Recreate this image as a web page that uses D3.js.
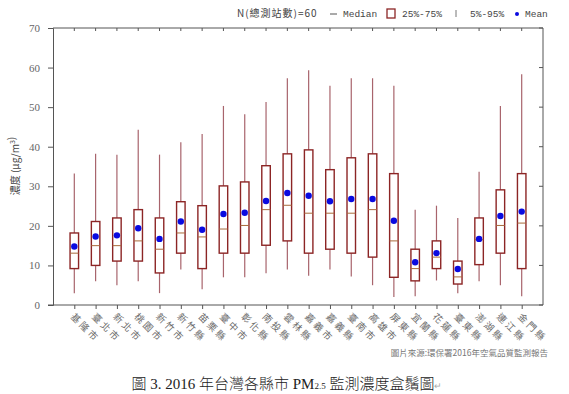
<!DOCTYPE html>
<html>
<head>
<meta charset="utf-8">
<script src="https://cdn.jsdelivr.net/npm/d3@7"></script>
<style>
  body { margin: 0; background: #fff; }
  svg { display: block; }
</style>
</head>
<body>
<svg class="viz" width="569" height="394"></svg>
<script>
// data
var cities = ["基隆市", "臺北市", "新北市", "桃園市", "新竹市", "新竹縣", "苗栗縣", "臺中市", "彰化縣", "南投縣", "雲林縣",
              "嘉義市", "嘉義縣", "臺南市", "高雄市", "屏東縣", "宜蘭縣", "花蓮縣", "臺東縣", "澎湖縣", "連江縣", "金門縣"];
var p5     = [3, 6, 5, 6, 3, 9, 4, 7, 7, 8, 9, 7.4, 9, 7.2, 5, 2, 2.2, 6.2, 3, 6, 5, 2.2];
var p25    = [9.2, 10, 11.1, 11.1, 8.1, 13.1, 9.2, 13.1, 13.1, 15.1, 16.2, 13.1, 14.1, 13.1, 12.1, 7, 6.1, 9.2, 5.3, 10.2, 13.1, 9.2];
var median = [13.1, 15, 15, 16.2, 14.1, 18.2, 17.2, 19.2, 20.1, 24.1, 25.2, 23.2, 23.2, 23.2, 24.1, 16.2, 9.2, 12.1, 7.1, 16.5, 20.1, 20.7];
var p75    = [18.2, 21.1, 22, 24.1, 22, 26.1, 25.1, 30.1, 31.1, 35.2, 38.2, 39.2, 34.2, 37.2, 38.2, 33.2, 14.1, 16.2, 11.1, 22, 29.1, 33.2];
var p95    = [33.2, 38.2, 38, 44.3, 38, 41.1, 43.2, 50.3, 48.2, 51.3, 57.3, 59.3, 55.4, 57.3, 57.3, 55.4, 24.1, 25.1, 22, 33.7, 50.3, 58.3];
var means  = [14.8, 17.3, 17.6, 19.4, 16.7, 21.1, 19, 23, 23.3, 26.3, 28.3, 27.6, 26.2, 26.8, 26.8, 21.3, 10.8, 13.1, 9.1, 16.7, 22.5, 23.6];
var yTicks = [0, 10, 20, 30, 40, 50, 60, 70];

var svg = d3.select(".viz"),
    margin = {top: 28, right: 26, bottom: 89, left: 53},
    width = 569 - margin.left - margin.right,
    height = 394 - margin.top - margin.bottom;

var axisColor = "#555",
    boxColor = "#8c2525",
    whiskerColor = "#a8646c",
    medianColor = "#a86a3c",
    meanColor = "#0a0ae0";

var scaleX = d3.scalePoint()
    .domain(cities)
    .range([0, width])
    .padding(1);

var scaleY = d3.scaleLinear()
    .domain([0, 70])
    .range([height, 0]);

var g = svg.append("g")
    .attr("transform", "translate(" + margin.left + "," + margin.top + ")");

// frame: top and right lines with inward ticks
g.append("line")
    .attr("x1", 0).attr("x2", width).attr("y1", 0).attr("y2", 0)
    .style("stroke", axisColor);
g.append("line")
    .attr("x1", width).attr("x2", width).attr("y1", 0).attr("y2", height)
    .style("stroke", axisColor);

g.selectAll(".topTick")
    .data(cities)
    .enter()
    .append("line")
    .attr("class", "topTick")
    .attr("x1", function (d) { return scaleX(d); })
    .attr("x2", function (d) { return scaleX(d); })
    .attr("y1", 0).attr("y2", 3)
    .style("stroke", axisColor);

g.selectAll(".rightTick")
    .data(yTicks)
    .enter()
    .append("line")
    .attr("class", "rightTick")
    .attr("x1", width - 4).attr("x2", width)
    .attr("y1", function (d) { return scaleY(d); })
    .attr("y2", function (d) { return scaleY(d); })
    .style("stroke", axisColor);

// left axis
var yAxis = d3.axisLeft(scaleY)
    .tickValues(yTicks)
    .tickSize(5)
    .tickPadding(8);

var yG = g.append("g").call(yAxis);
yG.select(".domain").style("stroke", axisColor);
yG.selectAll(".tick line").style("stroke", axisColor);
yG.selectAll("text")
    .style("font-family", "'Liberation Serif', serif")
    .style("font-size", "11px")
    .style("fill", "#666");

// bottom axis
var xAxis = d3.axisBottom(scaleX)
    .tickSize(4)
    .tickFormat("");

var xG = g.append("g")
    .attr("transform", "translate(0," + height + ")")
    .call(xAxis);
xG.select(".domain").attr("d", "M-5,0H" + width).style("stroke", axisColor);
xG.selectAll(".tick line").style("stroke", axisColor);

g.selectAll(".cityLabel")
    .data(cities)
    .enter()
    .append("text")
    .attr("class", "cityLabel")
    .attr("transform", function (d) {
      return "translate(" + (scaleX(d) - 2) + "," + (height + 10) + ") rotate(45)";
    })
    .attr("dy", "0.35em")
    .style("font-family", "'Noto Sans CJK TC', sans-serif")
    .style("font-size", "9.5px")
    .style("letter-spacing", "2.5px")
    .style("fill", "#6a6a6a")
    .text(function (d) { return d; });

// boxes
var boxW = 8.5;
var boxes = g.selectAll(".box")
    .data(cities)
    .enter()
    .append("g")
    .attr("class", "box");

boxes.append("line")
    .attr("x1", function (d) { return scaleX(d); })
    .attr("x2", function (d) { return scaleX(d); })
    .attr("y1", function (d, i) { return scaleY(p5[i]); })
    .attr("y2", function (d, i) { return scaleY(p95[i]); })
    .style("stroke", whiskerColor)
    .style("stroke-width", "1.2px");

boxes.append("rect")
    .attr("x", function (d) { return scaleX(d) - boxW / 2; })
    .attr("y", function (d, i) { return scaleY(p75[i]); })
    .attr("width", boxW)
    .attr("height", function (d, i) { return scaleY(p25[i]) - scaleY(p75[i]); })
    .style("fill", "#fff")
    .style("stroke", boxColor)
    .style("stroke-width", "1.4px");

boxes.append("line")
    .attr("x1", function (d) { return scaleX(d) - boxW / 2; })
    .attr("x2", function (d) { return scaleX(d) + boxW / 2; })
    .attr("y1", function (d, i) { return scaleY(median[i]); })
    .attr("y2", function (d, i) { return scaleY(median[i]); })
    .style("stroke", medianColor)
    .style("stroke-width", "1px");

boxes.append("circle")
    .attr("cx", function (d) { return scaleX(d); })
    .attr("cy", function (d, i) { return scaleY(means[i]); })
    .attr("r", 3.2)
    .style("fill", meanColor);

// y axis title
svg.append("text")
    .attr("transform", "translate(19,166) rotate(-90)")
    .attr("text-anchor", "middle")
    .style("font-family", "'Noto Sans CJK TC', sans-serif")
    .style("font-size", "10px")
    .style("fill", "#444")
    .html("濃度 (μg/m<tspan dy='-4' font-size='7px'>3</tspan>)");

// legend
var legend = svg.append("g")
    .style("font-family", "'Liberation Mono', monospace")
    .style("font-size", "9.5px")
    .style("fill", "#444");

legend.append("text").attr("x", 237).attr("y", 17)
    .style("font-family", "'Noto Sans CJK TC', sans-serif")
    .style("font-size", "10px")
    .style("letter-spacing", "1px")
    .text("N(總測站數)=60");
legend.append("line")
    .attr("x1", 330).attr("x2", 337).attr("y1", 14).attr("y2", 14)
    .style("stroke", "#555");
legend.append("text").attr("x", 343).attr("y", 17).text("Median");
legend.append("rect")
    .attr("x", 387).attr("y", 9).attr("width", 8).attr("height", 9)
    .style("fill", "#fff").style("stroke", boxColor).style("stroke-width", "1.3px");
legend.append("text").attr("x", 402).attr("y", 17).text("25%-75%");
legend.append("line")
    .attr("x1", 456).attr("x2", 456).attr("y1", 10).attr("y2", 17)
    .style("stroke", "#777");
legend.append("text").attr("x", 470).attr("y", 17).text("5%-95%");
legend.append("circle")
    .attr("cx", 517).attr("cy", 14).attr("r", 2)
    .style("fill", meanColor);
legend.append("text").attr("x", 525).attr("y", 17).text("Mean");

// source note
svg.append("text")
    .attr("x", 548).attr("y", 356)
    .attr("text-anchor", "end")
    .style("font-family", "'Noto Sans CJK TC', sans-serif")
    .style("font-size", "8.5px")
    .style("fill", "#777")
    .text("圖片來源:環保署2016年空氣品質監測報告");

// caption
var cap = svg.append("text")
    .attr("x", 287).attr("y", 389)
    .attr("text-anchor", "middle")
    .style("font-family", "'Liberation Serif', 'Noto Sans CJK TC', serif")
    .style("font-size", "15px")
    .style("font-weight", "300")
    .style("fill", "#222");
cap.append("tspan").text("圖 3. 2016 年台灣各縣市 PM");
cap.append("tspan").attr("font-size", "9px").text("2.5");
cap.append("tspan").text(" 監測濃度盒鬚圖");
cap.append("tspan").attr("font-size", "9px").style("fill", "#aaa").text("↵");
</script>
</body>
</html>
